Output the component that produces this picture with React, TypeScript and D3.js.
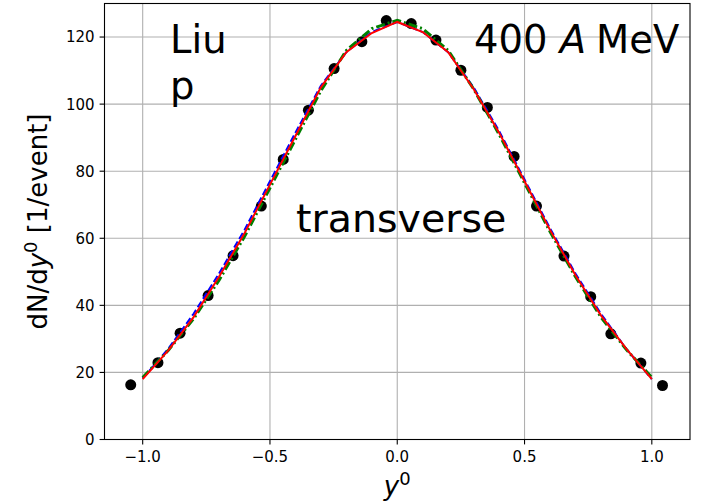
import React from "react";
import * as d3 from "d3";

// ---- data ----
const pointX = [-1.047, -0.94, -0.853, -0.743, -0.645, -0.534, -0.448, -0.349, -0.248, -0.139, -0.043,
  0.055, 0.152, 0.25, 0.354, 0.459, 0.547, 0.655, 0.76, 0.839, 0.957, 1.042];
const pointY = [16.3, 22.9, 31.7, 42.9, 54.8, 69.6, 83.5, 98.2, 110.6, 118.6, 124.9,
  124.0, 119.1, 110.1, 99.0, 84.4, 69.6, 54.7, 42.6, 31.5, 22.8, 16.1];

const curveX = [-1.0, -0.9, -0.8, -0.7, -0.6, -0.5, -0.4, -0.3, -0.2, -0.1, 0.0,
  0.1, 0.2, 0.3, 0.4, 0.5, 0.6, 0.7, 0.8, 0.9, 1.0];
const redY = [18, 26.5, 36.5, 48.5, 61.5, 76, 90.5, 105, 115.5, 121.2, 124.5,
  121.5, 115.5, 104.5, 91.5, 77, 62.5, 49, 37, 27, 18];
const blueY = [18.2, 27, 37.5, 49.5, 62.5, 77, 91.5, 105.5, 115.5, 121.5, 124.5,
  121.5, 115.5, 105, 92, 77.5, 63, 49.5, 37.5, 27, 18];
const greenY = [18.5, 26.5, 36, 47.5, 60.5, 75, 89.5, 104, 116, 122.5, 125,
  122.5, 116, 104.5, 91, 76.5, 62, 48.5, 36.5, 26.8, 18.5];

const xTicks = [-1.0, -0.5, 0.0, 0.5, 1.0];
const yTicks = [0, 20, 40, 60, 80, 100, 120];

export default function App() {
  const W = 708, H = 502;
  const L = 104.5, R = 690, T = 3.5, B = 439.5;
  const x = d3.scaleLinear().domain([-1.15, 1.15]).range([L, R]);
  const y = d3.scaleLinear().domain([0, 130]).range([B, T]);
  const line = d3.line<number>().x((_, i) => x(curveX[i])).y((d) => y(d));
  const font = "'DejaVu Sans', sans-serif";
  const fmtX = (v: number) => (v < 0 ? "\u2212" : "") + Math.abs(v).toFixed(1);
  const tickLen = 4.9;
  const bigFont = 38.5;

  return (
    <svg width={W} height={H} style={{ position: "absolute", left: 0, top: 0, background: "#fff" }} fontFamily={font}>
      <rect x={0} y={0} width={W} height={H} fill="#fff" />
      <defs>
        <clipPath id="plotclip">
          <rect x={L} y={T} width={R - L} height={B - T} />
        </clipPath>
      </defs>
      {/* grid */}
      {xTicks.map((t) => (
        <line key={"gx" + t} x1={x(t)} x2={x(t)} y1={T} y2={B} stroke="#b0b0b0" strokeWidth={1.1} />
      ))}
      {yTicks.map((t) => (
        <line key={"gy" + t} x1={L} x2={R} y1={y(t)} y2={y(t)} stroke="#b0b0b0" strokeWidth={1.1} />
      ))}
      {/* points and curves */}
      <g clipPath="url(#plotclip)">
        {pointX.map((px, i) => (
          <circle key={"p" + i} cx={x(px)} cy={y(pointY[i])} r={5.5} fill="#000" />
        ))}
        <path d={line(blueY) || ""} fill="none" stroke="#0000ff" strokeWidth={2} strokeDasharray="7,3" />
        <path d={line(greenY) || ""} fill="none" stroke="#008000" strokeWidth={3} strokeDasharray="9,3,2,3" />
        <path d={line(redY) || ""} fill="none" stroke="#ff0000" strokeWidth={2} />
      </g>
      {/* annotations */}
      <text x={170} y={53.3} fontSize={bigFont} fill="#000">Liu</text>
      <text x={170} y={99} fontSize={bigFont} fill="#000">p</text>
      <text x={474} y={53.3} fontSize={bigFont} fill="#000">
        <tspan>400 </tspan>
        <tspan fontStyle="italic">A</tspan>
        <tspan dx={10}>MeV</tspan>
      </text>
      <text x={296} y={231.7} fontSize={39.5} fill="#000">transverse</text>
      {/* spines */}
      <rect x={L} y={T} width={R - L} height={B - T} fill="none" stroke="#000" strokeWidth={1.1} />
      {/* x ticks */}
      {xTicks.map((t) => (
        <g key={"tx" + t}>
          <line x1={x(t)} x2={x(t)} y1={B} y2={B + tickLen} stroke="#000" strokeWidth={1.1} />
          <text x={x(t)} y={462} fontSize={15} textAnchor="middle" fill="#000">{fmtX(t)}</text>
        </g>
      ))}
      {/* y ticks */}
      {yTicks.map((t) => (
        <g key={"ty" + t}>
          <line x1={L - tickLen} x2={L} y1={y(t)} y2={y(t)} stroke="#000" strokeWidth={1.1} />
          <text x={L - tickLen - 5} y={y(t)} dy="0.36em" fontSize={15} textAnchor="end" fill="#000">{t}</text>
        </g>
      ))}
      {/* axis labels */}
      <text x={(L + R) / 2} y={495} fontSize={26} textAnchor="middle" fill="#000">
        <tspan fontStyle="italic">y</tspan>
        <tspan fontSize={18} dy={-10}>0</tspan>
      </text>
      <text transform={`translate(47, ${(T + B) / 2}) rotate(-90)`} fontSize={26} textAnchor="middle" fill="#000">
        <tspan>dN/d</tspan>
        <tspan fontStyle="italic">y</tspan>
        <tspan fontSize={18} dy={-10}>0</tspan>
        <tspan dy={10}> [1/event]</tspan>
      </text>
    </svg>
  );
}
